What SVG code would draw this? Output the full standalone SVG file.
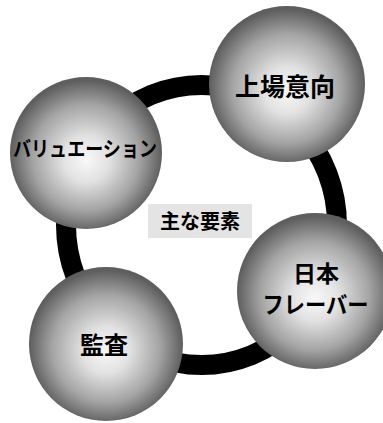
<svg xmlns="http://www.w3.org/2000/svg" width="383" height="423" viewBox="0 0 383 423">
<defs>
<radialGradient id="sph" cx="50%" cy="52%" r="50%" fx="50%" fy="55%">
<stop offset="0" stop-color="#f8f8f8"/>
<stop offset="0.3" stop-color="#e2e2e2"/>
<stop offset="0.7" stop-color="#a4a4a4"/>
<stop offset="1" stop-color="#5e5e5e"/>
</radialGradient>
</defs>
<style>
.ball{fill:url(#sph);}
.t{font-family:"Noto Sans CJK JP","Noto Sans",sans-serif;font-weight:bold;fill:#000;text-anchor:middle;}
.ring{fill:none;stroke:#000;stroke-width:20;}
</style>
<rect width="383" height="423" fill="#fff"/>
<g id="connectors">
<ellipse class="ring" cx="201.5" cy="225" rx="135.5" ry="140"/>
</g>
<g id="center-label">
<rect x="148" y="204" width="104" height="34" fill="#e4e4e4"/>
<text class="t" x="200" y="229" font-size="20" fill="#222">主な要素</text>
</g>
<g id="node-jojo">
<circle class="ball" cx="287" cy="84" r="78"/>
<text class="t" x="285" y="95.5" font-size="25">上場意向</text>
</g>
<g id="node-valuation">
<circle class="ball" cx="86" cy="153" r="76"/>
<text class="t" x="85" y="156" font-size="21" textLength="144" lengthAdjust="spacingAndGlyphs">バリュエーション</text>
</g>
<g id="node-flavor">
<circle class="ball" cx="315" cy="291" r="78"/>
<text class="t" x="316" y="282" font-size="23">日本</text>
<text class="t" x="315.5" y="313" font-size="23" textLength="106" lengthAdjust="spacingAndGlyphs">フレーバー</text>
</g>
<g id="node-audit">
<circle class="ball" cx="106" cy="344" r="77"/>
<text class="t" x="104" y="354" font-size="24">監査</text>
</g>
</svg>
